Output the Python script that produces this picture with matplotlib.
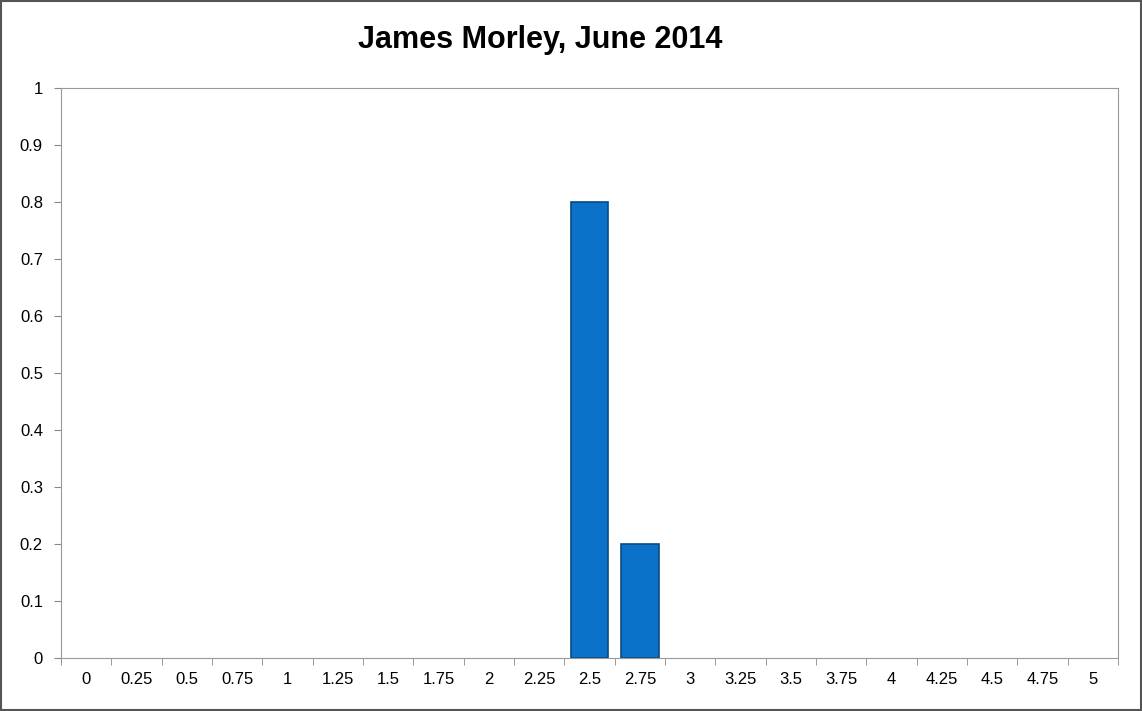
import matplotlib.pyplot as plt
import numpy as np

categories = ['0', '0.25', '0.5', '0.75', '1', '1.25', '1.5', '1.75', '2', '2.25',
              '2.5', '2.75', '3', '3.25', '3.5', '3.75', '4', '4.25', '4.5', '4.75', '5']
values = [0, 0, 0, 0, 0, 0, 0, 0, 0, 0, 0.8, 0.2, 0, 0, 0, 0, 0, 0, 0, 0, 0]
yticks = [0, 0.1, 0.2, 0.3, 0.4, 0.5, 0.6, 0.7, 0.8, 0.9, 1]
ylabels = ['0', '0.1', '0.2', '0.3', '0.4', '0.5', '0.6', '0.7', '0.8', '0.9', '1']

plt.rcParams['font.family'] = ['Liberation Sans', 'DejaVu Sans']

fig = plt.figure(figsize=(11.42, 7.11), dpi=100)
fig.patches.append(plt.Rectangle((0.001, 0.001), 0.998, 0.997, transform=fig.transFigure,
                                 fill=False, edgecolor='#555555', linewidth=1.5))
ax = fig.add_axes([0.0534, 0.0745, 0.9256, 0.8015])

x = np.arange(len(categories))
edges = ['#0a4a80' if v > 0 else 'none' for v in values]
ax.bar(x, values, width=0.75, color='#0a72c8', edgecolor=edges, linewidth=1.2)

ax.set_xlim(-0.5, len(categories) - 0.5)
ax.set_ylim(0, 1)
ax.set_xticks(x)
ax.set_xticklabels(categories, fontsize=12)
ax.set_xticks(np.arange(-0.5, len(categories), 1), minor=True)
ax.tick_params(axis='x', which='major', length=0, pad=10)
ax.tick_params(axis='x', which='minor', length=5, color='#888888')
ax.set_yticks(yticks)
ax.set_yticklabels(ylabels, fontsize=12)
ax.tick_params(axis='y', length=5, color='#888888', pad=8)
for s in ax.spines.values():
    s.set_color('#999999')

fig.text(0.473, 0.944, 'James Morley, June 2014', ha='center', va='center',
         fontsize=22, fontweight='bold')

fig.savefig('out.png', dpi=100)
